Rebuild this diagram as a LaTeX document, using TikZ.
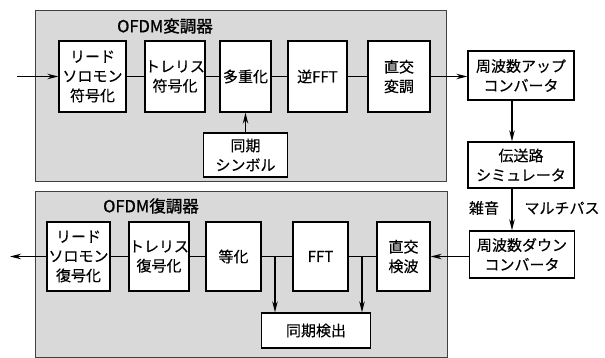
\documentclass[tikz,border=0pt]{standalone}
\usepackage{fontspec}
\setmainfont{Noto Sans CJK JP}
\newfontfamily\titlefont[FakeBold=1.3]{Noto Sans CJK JP}
\newfontfamily\bodyfont[FakeBold=0.4]{Noto Sans CJK JP}
\usetikzlibrary{arrows.meta,calc}
\tikzset{
  panel/.style={draw=black!75, line width=0.9pt, fill=black!15},
  blk/.style={draw=black, line width=1.3pt, fill=white, align=center, inner sep=0pt,
     font=\bodyfont\fontsize{15}{19.5}\selectfont},
  conn/.style={line width=1.6pt},
  arr/.style={conn, -{Stealth[length=11pt,width=5.5pt]}},
  ttl/.style={font=\titlefont\fontsize{16.5}{18}\selectfont, inner sep=0pt},
  lbl/.style={font=\bodyfont\fontsize{15}{16}\selectfont, inner sep=0pt},
}
\begin{document}
\begin{tikzpicture}[x=1pt,y=-1pt]
\useasboundingbox (0,0) rectangle (605,358);
% panels
\draw[panel] (35,10) rectangle (446,181);
\draw[panel] (35,191) rectangle (447,357);
\node[ttl] (t1) at (165,26) {OFDM変調器};
\node[ttl] (t2) at (151,206) {OFDM復調器};
% top row
\node[blk, minimum width=67pt, minimum height=71pt] (rs1) at (92.5,76.5) {リード\\ソロモン\\符号化};
\node[blk, minimum width=56pt, minimum height=71pt] (tr1) at (175,76.5) {トレリス\\符号化};
\node[blk, minimum width=51pt, minimum height=71pt] (mux) at (245.5,76.5) {多重化};
\node[blk, minimum width=59pt, minimum height=71pt] (ifft) at (317.5,76.5) {逆FFT};
\node[blk, minimum width=62pt, minimum height=71pt] (qm) at (399,76.5) {直交\\変調};
\node[blk, minimum width=84pt, minimum height=44pt] (sym) at (245.5,155) {同期\\シンボル};
\node[blk, minimum width=106pt, minimum height=49pt] (upc) at (521,75.5) {周波数アップ\\コンバータ};
\node[blk, minimum width=106pt, minimum height=46pt] (ch) at (521,165) {伝送路\\シミュレータ};
% bottom row
\node[blk, minimum width=63pt, minimum height=69pt] (rs2) at (78.5,256.5) {リード\\ソロモン\\復号化};
\node[blk, minimum width=58pt, minimum height=69pt] (tr2) at (159,256.5) {トレリス\\復号化};
\node[blk, minimum width=55pt, minimum height=69pt] (eq) at (233.5,256.5) {等化};
\node[blk, minimum width=55pt, minimum height=69pt] (fft) at (320.5,256.5) {FFT};
\node[blk, minimum width=53pt, minimum height=69pt] (qd) at (403.5,256.5) {直交\\検波};
\node[blk, minimum width=105pt, minimum height=47pt] (dnc) at (522,254.5) {周波数ダウン\\コンバータ};
\node[blk, minimum width=109pt, minimum height=35pt] (sd) at (316,330.5) {同期検出};
% labels
\node[lbl] (noise) at (484,208) {雑音};
\node[lbl] (mp) at (562,208) {マルチパス};
% connectors top
\coordinate (in) at (17,76.5);
\draw[arr] (in) -- (rs1);
\draw[conn] (rs1) -- (tr1);
\draw[conn] (tr1) -- (mux);
\draw[conn] (mux) -- (ifft);
\draw[conn] (ifft) -- (qm);
\draw[arr] (qm) -- (upc.west |- qm);
\draw[arr] (sym) -- (mux);
\draw[arr] ([xshift=-9pt]upc.south) -- ([xshift=-9pt]upc.south |- ch.north);
\draw[arr] ([xshift=-9pt]ch.south) -- ([xshift=-9pt]ch.south |- dnc.north);
% connectors bottom
\coordinate (out) at (10,256.5);
\draw[arr] (dnc.west |- qd) -- (qd);
\draw[conn] (qd) -- (fft);
\draw[conn] (fft) -- (eq);
\draw[conn] (eq) -- (tr2);
\draw[conn] (tr2) -- (rs2);
\draw[arr] (rs2) -- (out);
\coordinate (b1) at (275,256.5);
\coordinate (b2) at (362,256.5);
\draw[arr] (b1) -- (b1 |- sd.north);
\draw[arr] (b2) -- (b2 |- sd.north);
\end{tikzpicture}
\end{document}
